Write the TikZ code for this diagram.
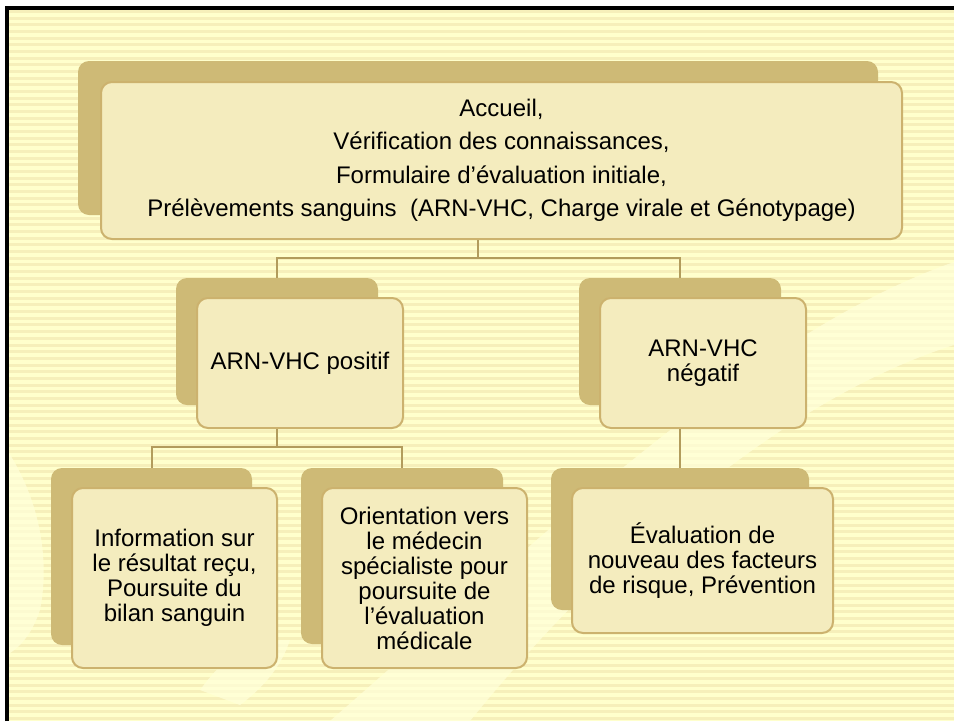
\documentclass[tikz,border=0pt]{standalone}
\usepackage{fontspec}
\setmainfont{Liberation Sans}
\definecolor{paper}{RGB}{255,255,204}
\definecolor{stripe}{RGB}{246,239,186}
\definecolor{glow}{RGB}{255,255,218}
\definecolor{shade}{RGB}{206,186,118}
\definecolor{card}{RGB}{244,236,190}
\definecolor{cardedge}{RGB}{204,178,110}
\definecolor{linkcol}{RGB}{178,156,92}

\tikzset{
  backbox/.style={rectangle, rounded corners=11pt, fill=shade, inner sep=0pt},
  frontbox/.style={rectangle, rounded corners=11pt, fill=card, draw=cardedge,
    line width=2pt, inner sep=0pt, align=center,
    font=\fontsize{24}{25}\selectfont},
  link/.style={draw=linkcol, line width=2pt}
}

\begin{document}
\begin{tikzpicture}[x=1pt, y=-1pt]
    \useasboundingbox (0,0) rectangle (954,721);
    \fill[white] (0,0) rectangle (954,721);
    \fill[paper] (7,8) rectangle (954,721);
    \foreach \s in {10,16.67,...,721}
        \fill[stripe] (7,\s) rectangle (954,\s+3);
    % faint swoosh in the background
    \fill[glow, opacity=.7] (330,721) .. controls (560,520) and (760,330) .. (954,262)
        -- (954,345) .. controls (780,400) and (600,560) .. (470,721) -- cycle;
    \fill[glow, opacity=.7] (7,450) .. controls (40,500) and (50,560) .. (40,610)
        .. controls (30,640) and (15,650) .. (7,655) -- cycle;
    \fill[glow, opacity=.7] (200,690) .. controls (230,650) and (250,640) .. (290,640)
        .. controls (280,670) and (260,690) .. (240,705) -- cycle;
    \draw[black, line width=3.5pt] (7,721) -- (7,8) -- (954,8);

    % back plates
    \node[backbox, minimum width=800pt, minimum height=154pt] (accB) at (478,138) {};
    \node[backbox, minimum width=202pt, minimum height=127pt] (posB) at (277,341.5) {};
    \node[backbox, minimum width=202pt, minimum height=127pt] (negB) at (680,341.5) {};
    \node[backbox, minimum width=201pt, minimum height=177pt] (infoB) at (151.5,556.5) {};
    \node[backbox, minimum width=202pt, minimum height=176pt] (oriB) at (402,556) {};
    \node[backbox, minimum width=258pt, minimum height=142pt] (evalB) at (680,539) {};

    % front cards
    \node[frontbox, minimum width=801pt, minimum height=157pt,
          font=\fontsize{24}{33.5}\selectfont] (acc) at (501.5,160.5)
        {Accueil,\\ Vérification des connaissances,\\ Formulaire d’évaluation initiale,\\
         Prélèvements sanguins\ \ (ARN-VHC, Charge virale et Génotypage)};
    \node[frontbox, minimum width=206pt, minimum height=130pt] (pos) at (300,363) {ARN-VHC positif};
    \node[frontbox, minimum width=206pt, minimum height=130pt] (neg) at (703,363) {ARN-VHC\\ négatif};
    \node[frontbox, minimum width=205pt, minimum height=180pt] (info) at (174.5,578)
        {Information sur\\ le résultat reçu,\\ Poursuite du\\ bilan sanguin};
    \node[frontbox, minimum width=205pt, minimum height=180pt] (ori) at (424.5,578)
        {Orientation vers\\ le médecin\\ spécialiste pour\\ poursuite de\\ l’évaluation\\ médicale};
    \node[frontbox, minimum width=261pt, minimum height=145pt] (eval) at (702.5,560.5)
        {Évaluation de\\ nouveau des facteurs\\ de risque, Prévention};

    % connectors
    \coordinate (bus1) at (accB.center |- 0,258);
    \draw[link] (accB.south |- acc.south) -- (bus1);
    \draw[link] (bus1) -| (posB.north);
    \draw[link] (bus1) -| (negB.north);
    \coordinate (bus2) at (posB.center |- 0,447);
    \draw[link] (posB.south |- pos.south) -- (bus2);
    \draw[link] (bus2) -| (infoB.north);
    \draw[link] (bus2) -| (oriB.north);
    \draw[link] (negB.south |- neg.south) -- (evalB.north);
\end{tikzpicture}
\end{document}
